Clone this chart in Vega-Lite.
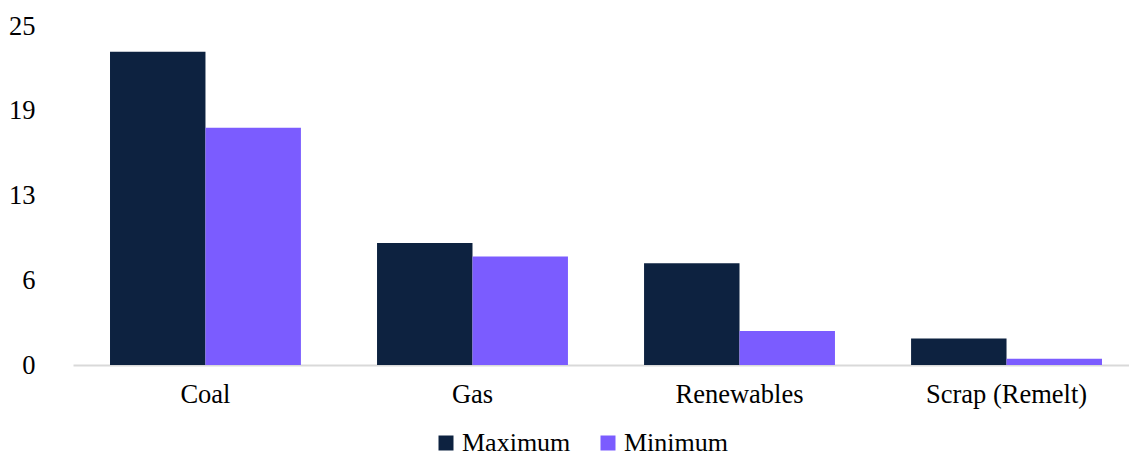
{
  "$schema": "https://vega.github.io/schema/vega-lite/v6.json",
  "autosize": "none",
  "width": 1066,
  "height": 339,
  "padding": {"left": 73, "top": 26, "right": 0, "bottom": 88},
  "background": "white",
  "config": {
    "view": {"stroke": null},
    "font": "Liberation Serif",
    "legend": {"labelFont": "Liberation Serif", "labelFontSize": 26, "labelLimit": 400}
  },
  "data": {
    "values": [
      {"source": "Coal", "series": "Maximum", "value": 23.1},
      {"source": "Coal", "series": "Minimum", "value": 17.5},
      {"source": "Gas", "series": "Maximum", "value": 9.0},
      {"source": "Gas", "series": "Minimum", "value": 8.0},
      {"source": "Renewables", "series": "Maximum", "value": 7.5},
      {"source": "Renewables", "series": "Minimum", "value": 2.5},
      {"source": "Scrap (Remelt)", "series": "Maximum", "value": 1.95},
      {"source": "Scrap (Remelt)", "series": "Minimum", "value": 0.47}
    ]
  },
  "mark": {"type": "bar"},
  "encoding": {
    "x": {
      "field": "source",
      "type": "nominal",
      "sort": null,
      "scale": {"paddingInner": 0.285, "paddingOuter": 0.1386},
      "axis": {
        "title": null,
        "labelAngle": 0,
        "labelFont": "Liberation Serif",
        "labelFontSize": 26.5,
        "labelColor": "#000000",
        "labelPadding": 16,
        "ticks": false,
        "domainColor": "#d9d9d9",
        "domainWidth": 2
      }
    },
    "xOffset": {"field": "series", "type": "nominal", "sort": ["Maximum", "Minimum"]},
    "y": {
      "field": "value",
      "type": "quantitative",
      "scale": {"domain": [0, 25], "nice": false},
      "axis": {
        "title": null,
        "values": [0, 6.25, 12.5, 18.75, 25],
        "format": ".0f",
        "labelFont": "Liberation Serif",
        "labelFontSize": 26.5,
        "labelColor": "#000000",
        "labelPadding": 38,
        "ticks": false,
        "domain": false,
        "grid": false
      }
    },
    "color": {
      "field": "series",
      "type": "nominal",
      "scale": {"domain": ["Maximum", "Minimum"], "range": ["#0d2240", "#7b5cff"]},
      "legend": {
        "title": null,
        "orient": "none",
        "direction": "horizontal",
        "legendX": 360,
        "legendY": 404,
        "symbolType": "square",
        "symbolSize": 225,
        "symbolStrokeWidth": 0,
        "symbolOpacity": 1,
        "labelFont": "Liberation Serif",
        "labelFontSize": 26,
        "labelLimit": 400,
        "labelColor": "#000000",
        "labelOffset": 3,
        "columnPadding": 24
      }
    }
  }
}
